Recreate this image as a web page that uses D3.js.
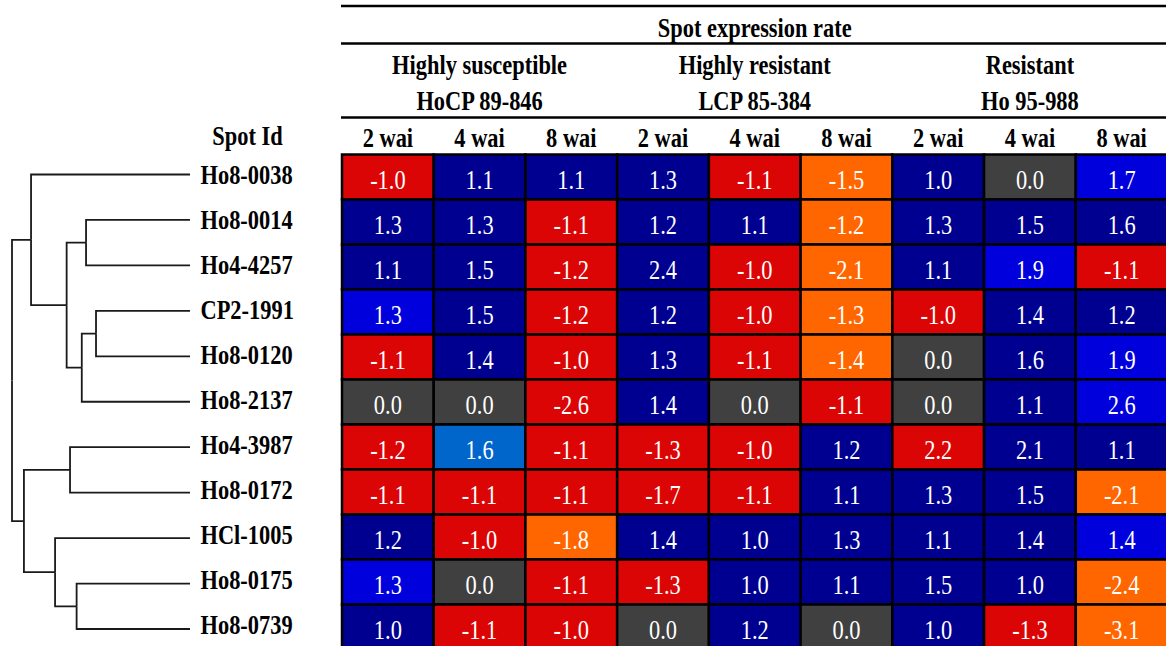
<!DOCTYPE html>
<html>
<head>
<meta charset="utf-8">
<script src="https://cdn.jsdelivr.net/npm/d3@7"></script>
<style>
  html, body { margin: 0; padding: 0; background: #fff; }
  svg { display: block; }
  text { font-family: "Liberation Serif", "Times New Roman", serif; }
</style>
</head>
<body>
<svg id="chart" width="1166" height="646"></svg>
<script>
// ---- data -------------------------------------------------------------
const spotIds = ["Ho8-0038", "Ho8-0014", "Ho4-4257", "CP2-1991", "Ho8-0120",
  "Ho8-2137", "Ho4-3987", "Ho8-0172", "HCl-1005", "Ho8-0175", "Ho8-0739"];

const genotypes = [
  { group: "Highly susceptible", cultivar: "HoCP 89-846" },
  { group: "Highly resistant", cultivar: "LCP 85-384" },
  { group: "Resistant", cultivar: "Ho 95-988" }
];
const timePoints = ["2 wai", "4 wai", "8 wai"];

// expression rate per spot (rows) and genotype x time point (columns)
const rates = [
  [-1.0,  1.1,  1.1,  1.3, -1.1, -1.5,  1.0,  0.0,  1.7],
  [ 1.3,  1.3, -1.1,  1.2,  1.1, -1.2,  1.3,  1.5,  1.6],
  [ 1.1,  1.5, -1.2,  2.4, -1.0, -2.1,  1.1,  1.9, -1.1],
  [ 1.3,  1.5, -1.2,  1.2, -1.0, -1.3, -1.0,  1.4,  1.2],
  [-1.1,  1.4, -1.0,  1.3, -1.1, -1.4,  0.0,  1.6,  1.9],
  [ 0.0,  0.0, -2.6,  1.4,  0.0, -1.1,  0.0,  1.1,  2.6],
  [-1.2,  1.6, -1.1, -1.3, -1.0,  1.2,  2.2,  2.1,  1.1],
  [-1.1, -1.1, -1.1, -1.7, -1.1,  1.1,  1.3,  1.5, -2.1],
  [ 1.2, -1.0, -1.8,  1.4,  1.0,  1.3,  1.1,  1.4,  1.4],
  [ 1.3,  0.0, -1.1, -1.3,  1.0,  1.1,  1.5,  1.0, -2.4],
  [ 1.0, -1.1, -1.0,  0.0,  1.2,  0.0,  1.0, -1.3, -3.1]
];

// colour class of each cell: up, upStrong, upLight, down, downStrong, none
const classes = [
  ["down", "up", "up", "up", "down", "downStrong", "up", "none", "upStrong"],
  ["up", "up", "down", "up", "up", "downStrong", "up", "up", "up"],
  ["up", "up", "down", "up", "down", "downStrong", "up", "upStrong", "down"],
  ["upStrong", "up", "down", "up", "down", "downStrong", "down", "up", "up"],
  ["down", "up", "down", "up", "down", "downStrong", "none", "up", "upStrong"],
  ["none", "none", "down", "up", "none", "down", "none", "up", "upStrong"],
  ["down", "upLight", "down", "down", "down", "up", "down", "up", "up"],
  ["down", "down", "down", "down", "down", "up", "up", "up", "downStrong"],
  ["up", "down", "downStrong", "up", "up", "up", "up", "up", "upStrong"],
  ["upStrong", "none", "down", "down", "up", "up", "up", "up", "downStrong"],
  ["up", "down", "down", "none", "up", "none", "up", "down", "downStrong"]
];
const classNames = ["up", "upStrong", "upLight", "down", "downStrong", "none"];
const classColors = ["#000090", "#0000dc", "#0066cc", "#dc0505", "#ff6600", "#404040"];

// hierarchical clustering of the spots: [left, right, height];
// numbers refer to earlier merges, strings to spots
const linkage = [
  ["CP2-1991", "Ho8-0120", 0.528],
  ["Ho8-0014", "Ho4-4257", 0.584],
  [0, "Ho8-2137", 0.608],
  ["Ho8-0175", "Ho8-0739", 0.637],
  ["Ho4-3987", "Ho8-0172", 0.674],
  [1, 2, 0.693],
  ["HCl-1005", 3, 0.758],
  ["Ho8-0038", 5, 0.893],
  [4, 6, 0.933],
  [7, 8, 1.0]
];

// ---- layout -----------------------------------------------------------
const svg = d3.select("#chart");
const SX = 0.815;         // narrow type
const fontSize = 27.5;

const columns = d3.range(genotypes.length * timePoints.length);
const x = d3.scaleBand().domain(columns).range([342, 1167.5]);
const y = d3.scaleBand().domain(spotIds).range([154.5, 649.5]);
const fill = d3.scaleOrdinal().domain(classNames).range(classColors);
const fmt = v => v.toFixed(1);

function label(g, tx, ty, str, opts = {}) {
  return g.append("text")
    .attr("transform", `translate(${tx},${ty}) scale(${SX},1)`)
    .attr("text-anchor", opts.anchor || "middle")
    .attr("font-size", fontSize)
    .attr("font-weight", opts.weight || "bold")
    .attr("fill", opts.color || "#000")
    .text(str);
}

// ---- header -----------------------------------------------------------
const header = svg.append("g");
const ruleX0 = x.range()[0], ruleX1 = 1166;
[6, 43.5, 117.5].forEach(ry => {
  header.append("line")
    .attr("x1", ruleX0 - 1).attr("x2", ruleX1)
    .attr("y1", ry).attr("y2", ry)
    .attr("stroke", "#000").attr("stroke-width", 2.5);
});
label(header, (x.range()[0] + x.range()[1]) / 2, 36.5, "Spot expression rate");

genotypes.forEach((gt, i) => {
  const c0 = x(i * 3), c1 = x(i * 3 + 2) + x.bandwidth();
  const cx = (c0 + c1) / 2;
  label(header, cx, 74, gt.group);
  label(header, cx, 109.5, gt.cultivar);
});
columns.forEach(c => {
  label(header, x(c) + x.bandwidth() / 2, 146.5, timePoints[c % 3]);
});
label(header, 247.5, 145, "Spot Id");

// ---- heat map ---------------------------------------------------------
const cells = [];
rates.forEach((row, r) => row.forEach((v, c) => {
  cells.push({ spot: spotIds[r], col: c, value: v, cls: classes[r][c] });
}));

const grid = svg.append("g");
grid.selectAll("rect")
  .data(cells)
  .join("rect")
  .attr("x", d => x(d.col))
  .attr("y", d => y(d.spot))
  .attr("width", x.bandwidth())
  .attr("height", y.bandwidth())
  .attr("fill", d => fill(d.cls))
  .attr("stroke", "#000")
  .attr("stroke-width", 2.5);

cells.forEach(d => {
  label(grid, x(d.col) + x.bandwidth() / 2, y(d.spot) + y.bandwidth() / 2 + 11.5,
    fmt(d.value), { weight: "normal", color: "#fff" });
});

// ---- spot labels ------------------------------------------------------
const rowLabels = svg.append("g");
spotIds.forEach(s => {
  label(rowLabels, 200.5, y(s) + y.bandwidth() / 2 + 7, s, { anchor: "start" });
});

// ---- dendrogram -------------------------------------------------------
const nodes = linkage.map(([a, b, h], i) => ({ name: "m" + i, h, children: [] }));
linkage.forEach(([a, b], i) => {
  [a, b].forEach(k => {
    nodes[i].children.push(typeof k === "number" ? nodes[k] : { name: k, h: 0 });
  });
});
const root = d3.hierarchy(nodes[nodes.length - 1]);

const hx = d3.scaleLinear().domain([0, 1]).range([190, 12]);
const leafY = d3.scalePoint().domain(spotIds).range([174.5, 629]);

root.eachAfter(n => {
  n.py = n.children ? d3.mean(n.children, c => c.py) : leafY(n.data.name);
});

svg.append("g")
  .selectAll("path")
  .data(root.links())
  .join("path")
  .attr("d", l => `M${hx(l.source.data.h)},${l.source.py}V${l.target.py}H${hx(l.target.data.h)}`)
  .attr("fill", "none")
  .attr("stroke", "#1a1a1a")
  .attr("stroke-width", 1.8);
</script>
</body>
</html>
